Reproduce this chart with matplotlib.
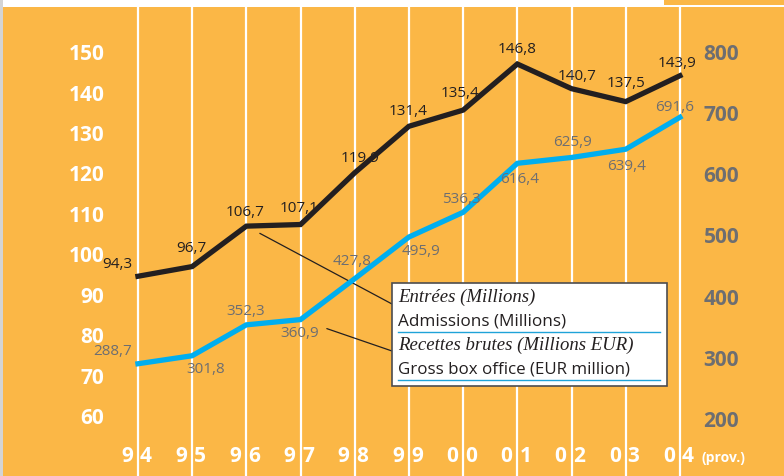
import matplotlib
matplotlib.use("Agg")
import matplotlib.pyplot as plt
from matplotlib.patches import Rectangle
from matplotlib.lines import Line2D

# data
years = ["94", "95", "96", "97", "98", "99", "00", "01", "02", "03", "04"]
admissions = [94.3, 96.7, 106.7, 107.1, 119.9, 131.4, 135.4, 146.8, 140.7, 137.5, 143.9]
box_office = [288.7, 301.8, 352.3, 360.9, 427.8, 495.9, 536.3, 616.4, 625.9, 639.4, 691.6]
left_ticks = [60, 70, 80, 90, 100, 110, 120, 130, 140, 150]
right_ticks = [200, 300, 400, 500, 600, 700, 800]

# label offsets in pixels (dx, dy) relative to each point
adm_offsets = [(-21, 13), (-1, 19), (-1, 15), (-1, 17), (5, 15), (-1, 16),
               (-3, 18), (0, 16), (6, 13), (0, 19), (-3, 13)]
box_offsets = [(-25, 13), (14, -13), (-1, 14), (-1, -13), (-3, 18), (12, -13),
               (-2, 14), (2, -15), (1, 16), (1, -16), (-5, 11)]

ORANGE = "#FBB746"
GREY = "#6D6E71"
CYAN = "#00AEEF"
BLACK = "#231F20"

W, H = 784, 477


def px(x, y):
    """pixel (from top-left) -> figure fraction"""
    return x / W, 1 - y / H


fig = plt.figure(figsize=(W / 100, H / 100), dpi=100)
fig.patch.set_facecolor("white")

# background bits around the plot area
fig.patches.append(Rectangle(px(0, H), 3 / W, 1, transform=fig.transFigure,
                             facecolor="#D4D4D4", edgecolor="none", zorder=0))
fig.patches.append(Rectangle(px(664, 6), 1, 6 / H, transform=fig.transFigure,
                             facecolor=ORANGE, edgecolor="none", zorder=0))

ax = fig.add_axes([3 / W, 0, (W - 3) / W, (H - 8) / H])
ax.set_facecolor(ORANGE)
for s in ax.spines.values():
    s.set_visible(False)

x = list(range(len(years)))
ax.set_xlim(-2.49, 11.92)
ax.set_ylim(44.9, 160.9)
ax2 = ax.twinx()
for s in ax2.spines.values():
    s.set_visible(False)
ax2.set_ylim(105.2, 871.9)

# vertical white grid lines
for xi in x:
    ax.axvline(xi, color="white", lw=1.6, zorder=1)

ax.plot(x, admissions, color=BLACK, lw=3.8, solid_joinstyle="miter", zorder=3)
ax2.plot(x, box_office, color=CYAN, lw=3.8, solid_joinstyle="miter", zorder=3)

for xi, v, (dx, dy) in zip(x, admissions, adm_offsets):
    ax.annotate(f"{v:.1f}".replace(".", ","), (xi, v), xytext=(dx, dy),
                textcoords="offset pixels", ha="center", va="center",
                fontsize=11, color=BLACK, family="Open Sans", zorder=4)
for xi, v, (dx, dy) in zip(x, box_office, box_offsets):
    ax2.annotate(f"{v:.1f}".replace(".", ","), (xi, v), xytext=(dx, dy),
                 textcoords="offset pixels", ha="center", va="center",
                 fontsize=11, color=GREY, family="Open Sans", zorder=4)

# axis tick labels drawn inside the plot area
ax.set_xticks([])
ax.set_yticks(left_ticks)
ax.tick_params(axis="y", length=0, pad=-73, labelsize=15, labelcolor="white")
ax2.set_yticks(right_ticks)
ax2.tick_params(axis="y", length=0, pad=-58, labelsize=15, labelcolor=GREY)
for lab in ax.get_yticklabels() + ax2.get_yticklabels():
    lab.set_fontweight("bold")
    lab.set_family("Open Sans")

# year labels split by the grid line
tr = ax.get_xaxis_transform()
for xi, yr in zip(x, years):
    ax.annotate(yr[0], (xi, 0.043), xycoords=tr, xytext=(-5, 0),
                textcoords="offset pixels", ha="right", va="center",
                fontsize=15, fontweight="bold", color="white", family="Open Sans")
    ax.annotate(yr[1], (xi, 0.043), xycoords=tr, xytext=(2, 0),
                textcoords="offset pixels", ha="left", va="center",
                fontsize=15, fontweight="bold", color="white", family="Open Sans")
ax.annotate("(prov.)", (x[-1], 0.043), xycoords=tr, xytext=(22, -1),
            textcoords="offset pixels", ha="left", va="center",
            fontsize=10, fontweight="bold", color="white", family="Open Sans")

# leader lines from the points to the legend box
ax.annotate("", xy=(x[2], admissions[2]), xytext=px(392, 305), textcoords="figure fraction",
            arrowprops=dict(arrowstyle="-", color=BLACK, lw=0.9, shrinkA=0, shrinkB=11), zorder=5)
ax2.annotate("", xy=(x[3], box_office[3]), xytext=px(392, 352), textcoords="figure fraction",
             arrowprops=dict(arrowstyle="-", color=BLACK, lw=0.9, shrinkA=0, shrinkB=20), zorder=5)

# legend box
bx0, by0 = px(392, 387)
bx1, by1 = px(667, 284)
fig.patches.append(Rectangle((bx0, by0), bx1 - bx0, by1 - by0, transform=fig.transFigure,
                             facecolor="white", edgecolor="#4D4D4F", lw=1.2, zorder=6))
legend_lines = [
    ("Entrées (Millions)", 297, "Liberation Serif", "italic", 13.5),
    ("Admissions (Millions)", 322, "Open Sans", "normal", 12.3),
    ("Recettes brutes (Millions EUR)", 345, "Liberation Serif", "italic", 13.5),
    ("Gross box office (EUR million)", 369, "Open Sans", "normal", 12.2),
]
for txt, yy, fam, style, size in legend_lines:
    fig.text(*px(398, yy), txt, ha="left", va="center", fontsize=size,
             family=fam, style=style, color=BLACK, zorder=7)
for yy in (333, 381):
    fig.lines.append(Line2D([398 / W, 660 / W], [1 - yy / H] * 2, transform=fig.transFigure,
                            color="#1FA3D8", lw=1.0, zorder=7))

fig.savefig("out.png", dpi=100, facecolor=fig.get_facecolor())
